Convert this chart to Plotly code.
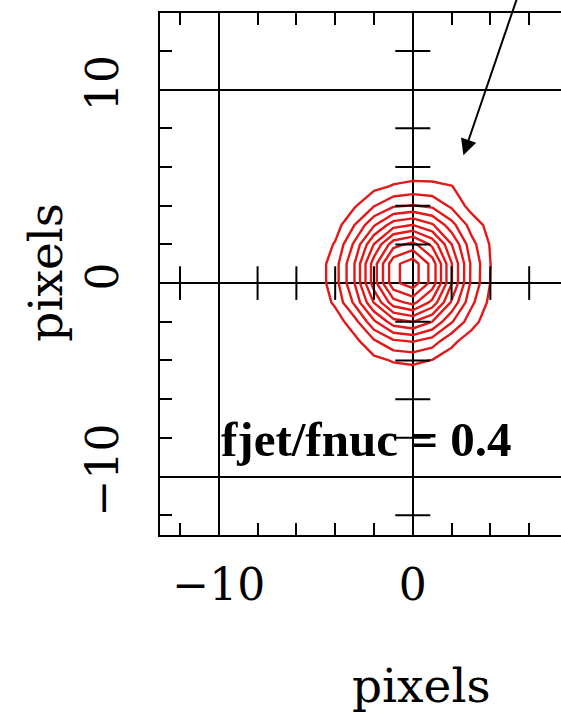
import plotly.graph_objects as go

# pixel grid of the model image
grid_x = [-6, -5, -4, -3, -2, -1, 0, 1, 2, 3, 4, 5, 6]
grid_y = [-6, -5, -4, -3, -2, -1, 0, 1, 2, 3, 4, 5, 6, 7]
# intensity (percent of peak), rows follow grid_y
z_rows = [
    [0.0, 0.1, 0.2, 0.4, 0.7, 1.0, 1.1, 0.9, 0.6, 0.3, 0.1, 0.0, 0.0],
    [0.0, 0.2, 0.6, 1.4, 2.6, 3.7, 4.0, 3.3, 2.1, 1.0, 0.4, 0.1, 0.0],
    [0.1, 0.6, 1.7, 4.1, 7.6, 10.7, 11.8, 9.6, 6.1, 3.0, 1.1, 0.3, 0.1],
    [0.3, 1.3, 3.8, 7.5, 17.0, 25.0, 27.0, 22.5, 12.0, 6.0, 2.7, 0.8, 0.2],
    [0.6, 2.5, 5.5, 15.0, 33.0, 47.3, 51.2, 42.6, 27.2, 13.4, 5.1, 1.5, 0.3],
    [0.9, 3.8, 11.5, 28.1, 51.4, 72.4, 78.3, 65.1, 41.6, 20.5, 7.7, 2.2, 0.5],
    [1.2, 4.7, 14.6, 34.7, 63.6, 89.5, 96.9, 80.6, 51.5, 25.3, 9.8, 2.8, 0.6],
    [1.2, 4.7, 14.6, 34.7, 63.6, 89.5, 96.9, 80.6, 51.5, 25.5, 10.1, 2.9, 0.6],
    [0.9, 3.6, 10.8, 28.1, 51.4, 72.4, 78.3, 65.5, 43.0, 21.5, 9.3, 2.6, 0.5],
    [0.6, 2.3, 6.0, 18.3, 33.6, 47.3, 51.2, 44.0, 29.5, 15.0, 7.0, 2.0, 0.3],
    [0.3, 1.2, 3.6, 9.0, 17.7, 25.0, 27.0, 24.5, 16.5, 7.0, 4.0, 1.0, 0.2],
    [0.1, 0.5, 1.5, 3.8, 7.6, 10.7, 12.3, 12.0, 10.3, 5.0, 1.5, 0.3, 0.1],
    [0.0, 0.2, 0.6, 1.4, 2.6, 3.7, 4.2, 4.0, 3.0, 1.5, 0.5, 0.1, 0.0],
    [0.0, 0.1, 0.2, 0.4, 0.7, 1.0, 1.1, 1.0, 0.7, 0.4, 0.1, 0.0, 0.0],
]
contour_start = 10.0
contour_end = 92.0
contour_step = 8.2

major_ticks = [-10, 0, 10]
major_labels = ["\u221210", "0", "10"]
cross_ticks_y = [-12, -8, -6, -4, -2, 2, 4, 6, 8, 12]
cross_ticks_x = [-12, -8, -6, -4, -2, 2, 4, 6]

annotation_text = "fjet/fnuc = 0.4"
axis_title = "pixels"

RED = "rgb(228,24,24)"
SERIF = "DejaVu Serif"

fig = go.Figure()

fig.add_trace(go.Contour(
    x=grid_x, y=grid_y, z=z_rows,
    contours=dict(start=contour_start, end=contour_end, size=contour_step, coloring="lines"),
    colorscale=[[0, RED], [1, RED]],
    showscale=False,
    line=dict(width=2.4, smoothing=0),
    hoverinfo="skip",
))

# ticks crossing the zero lines
fig.add_trace(go.Scatter(
    x=[0] * len(cross_ticks_y), y=cross_ticks_y, mode="markers",
    marker=dict(symbol="line-ew", size=25, line=dict(width=2, color="black")),
    hoverinfo="skip", showlegend=False,
))
fig.add_trace(go.Scatter(
    x=cross_ticks_x, y=[0] * len(cross_ticks_x), mode="markers",
    marker=dict(symbol="line-ns", size=24, line=dict(width=2, color="black")),
    hoverinfo="skip", showlegend=False,
))

common = dict(
    tickmode="array", tickvals=major_ticks, ticktext=major_labels,
    ticks="inside", ticklen=12, tickwidth=2, tickcolor="black",
    showgrid=True, gridcolor="black", gridwidth=2,
    zeroline=False, showline=True, linecolor="black", linewidth=2,
    tickfont=dict(family=SERIF, size=44, color="black"),
    minor=dict(dtick=2, tick0=0, ticks="inside", ticklen=12, tickwidth=2,
               tickcolor="black", showgrid=False),
)

fig.update_xaxes(range=[-13.03, 7.64], mirror="ticks", ticklabelstandoff=10, **common)
fig.update_yaxes(range=[-13.02, 13.96], mirror=False, tickangle=-90, ticklabelstandoff=22, **common)

fig.add_annotation(
    x=2.61, y=6.61, ax=5.47, ay=15.0, xref="x", yref="y", axref="x", ayref="y",
    text="", showarrow=True, arrowhead=2, arrowsize=1.6, arrowwidth=2, arrowcolor="black",
)
fig.add_annotation(
    x=-10, y=-8.1, xref="x", yref="y", xanchor="left", yanchor="middle",
    text=annotation_text, showarrow=False,
    font=dict(family="Liberation Serif", size=49, color="black", weight="bold"),
)
fig.add_annotation(
    x=0.651, y=-0.289, xref="paper", yref="paper", xanchor="center", yanchor="middle",
    text=axis_title, showarrow=False,
    font=dict(family=SERIF, size=47, color="black"),
)
fig.add_annotation(
    x=-0.285, y=0.504, xref="paper", yref="paper", xanchor="center", yanchor="middle",
    text=axis_title, showarrow=False, textangle=-90,
    font=dict(family=SERIF, size=47, color="black"),
)

fig.update_layout(
    width=561, height=714,
    margin=dict(l=160, r=0, t=13, b=179),
    paper_bgcolor="white", plot_bgcolor="white",
    showlegend=False,
)

fig.write_html("out.html")
